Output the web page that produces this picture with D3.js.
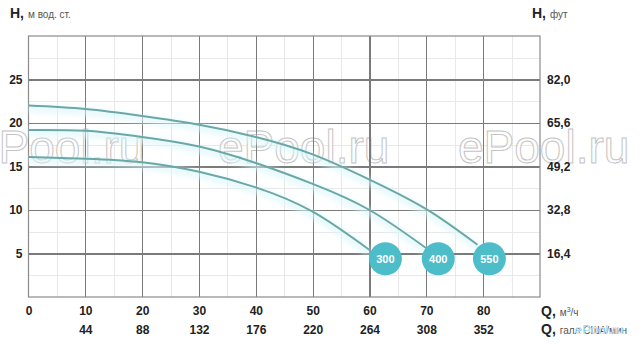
<!DOCTYPE html>
<html>
<head>
<meta charset="utf-8">
<script src="https://cdn.jsdelivr.net/npm/d3@7"></script>
<style>
  body { margin: 0; background: #fff; }
  svg { display: block; font-family: Arial, "Liberation Sans", sans-serif; }
  .tick line { shape-rendering: crispEdges; }
</style>
</head>
<body>
<div id="container"></div>
<script>
// chart values
const qTicks = [0, 10, 20, 30, 40, 50, 60, 70, 80];
const gpmTicks = ["", "44", "88", "132", "176", "220", "264", "308", "352"];
const hTicks = [5, 10, 15, 20, 25];
const ftTicks = ["16,4", "32,8", "49,2", "65,6", "82,0"];
const qMinor = [5, 15, 25, 35, 45, 55, 65, 75, 85];
const hMinor = [2.5, 7.5, 12.5, 17.5, 22.5, 27.5];

const models = ["300", "400", "550"];
const curveQ = [
  [0, 10, 20, 30, 40, 50, 60],
  [0, 10, 20, 30, 40, 50, 60, 70],
  [0, 10, 20, 30, 40, 50, 60, 70, 79]
];
const curveH = [
  [16.1, 15.9, 15.5, 14.4, 12.6, 9.8, 5.4],
  [19.2, 19.1, 18.4, 17.3, 15.4, 13.0, 10.0, 5.6],
  [22.0, 21.6, 20.8, 19.8, 18.4, 16.4, 13.5, 10.1, 6.0]
];
const badgeQ = [62.8, 72.1, 81.1];
const badgeH = [4.4, 4.4, 4.4];

// dimensions
const W = 642, H = 344;
const x = d3.scaleLinear().domain([0, 90]).range([28.5, 540]);
const y = d3.scaleLinear().domain([0, 30]).range([297, 36]);

const svg = d3.select("#container")
  .append("svg")
  .attr("width", W)
  .attr("height", H);

const defs = svg.append("defs");
defs.append("filter")
  .attr("id", "glow")
  .attr("x", "-10%").attr("y", "-50%")
  .attr("width", "120%").attr("height", "200%")
  .append("feGaussianBlur")
  .attr("stdDeviation", 3);

// minor grid
svg.append("g")
  .attr("transform", `translate(0, ${y(0)})`)
  .call(d3.axisBottom(x).tickValues(qMinor).tickSize(-(y(0) - y(30))).tickFormat(""))
  .call(g => g.select(".domain").remove())
  .call(g => g.selectAll("line").attr("stroke", "#e8e8e8"));

svg.append("g")
  .attr("transform", `translate(${x(0)}, 0)`)
  .call(d3.axisLeft(y).tickValues(hMinor).tickSize(-(x(90) - x(0))).tickFormat(""))
  .call(g => g.select(".domain").remove())
  .call(g => g.selectAll("line").attr("stroke", "#e8e8e8"));

// watermarks
const marks = [-27, 218, 458];
svg.append("g")
  .selectAll("text")
  .data(marks)
  .join("text")
  .attr("x", d => d)
  .attr("y", 163)
  .attr("font-size", 46)
  .attr("fill", "#fff")
  .attr("stroke", "#c4c4c4")
  .attr("stroke-width", 1)
  .text("ePool.ru");

// major grid
svg.append("g")
  .attr("transform", `translate(0, ${y(0)})`)
  .call(d3.axisBottom(x).tickValues(qTicks.slice(1)).tickSize(-(y(0) - y(30))).tickFormat(""))
  .call(g => g.select(".domain").remove())
  .call(g => g.selectAll("line").attr("stroke", "#7a7a7a").attr("stroke-width", 1.2));

svg.append("g")
  .attr("transform", `translate(${x(0)}, 0)`)
  .call(d3.axisLeft(y).tickValues(hTicks).tickSize(-(x(90) - x(0))).tickFormat(""))
  .call(g => g.select(".domain").remove())
  .call(g => g.selectAll("line").attr("stroke", "#7a7a7a").attr("stroke-width", 1.2));

// frame
svg.append("rect")
  .attr("x", x(0)).attr("y", y(30))
  .attr("width", x(90) - x(0)).attr("height", y(0) - y(30))
  .attr("fill", "none")
  .attr("stroke", "#8a8a8a")
  .attr("stroke-width", 1.2);

// curves
const line = d3.line()
  .x(d => x(d[0]))
  .y(d => y(d[1]))
  .curve(d3.curveNatural);

const curves = models.map((m, i) => curveQ[i].map((q, j) => [q, curveH[i][j]]));

svg.append("g")
  .selectAll("path")
  .data(curves)
  .join("path")
  .attr("d", line)
  .attr("transform", "translate(0, 3)")
  .attr("fill", "none")
  .attr("stroke", "#dcf6f9")
  .attr("stroke-width", 5)
  .attr("filter", "url(#glow)");

svg.append("g")
  .selectAll("path")
  .data(curves)
  .join("path")
  .attr("d", line)
  .attr("fill", "none")
  .attr("stroke", "#6aa8a8")
  .attr("stroke-width", 2);

// model badges
const badges = svg.append("g")
  .selectAll("g")
  .data(models)
  .join("g")
  .attr("transform", (d, i) => `translate(${x(badgeQ[i])}, ${y(badgeH[i])})`);

badges.append("circle")
  .attr("r", 16.5)
  .attr("fill", "#4dbdc9");

badges.append("text")
  .attr("text-anchor", "middle")
  .attr("dy", "0.35em")
  .attr("font-size", 11)
  .attr("font-weight", "bold")
  .attr("fill", "#fff")
  .text(d => d);

// left axis labels
svg.append("g")
  .attr("transform", `translate(${x(0)}, 0)`)
  .call(d3.axisLeft(y).tickValues(hTicks).tickSize(0).tickPadding(6))
  .call(g => g.select(".domain").remove())
  .call(g => g.selectAll("text")
    .attr("font-size", 12).attr("font-weight", "bold").attr("fill", "#222")
    .attr("font-family", "Arial, 'Liberation Sans', sans-serif"));

// right axis labels
svg.append("g")
  .attr("transform", `translate(${x(90)}, 0)`)
  .call(d3.axisRight(y).tickValues(hTicks).tickSize(0).tickPadding(7)
    .tickFormat((d, i) => ftTicks[i]))
  .call(g => g.select(".domain").remove())
  .call(g => g.selectAll("text")
    .attr("font-size", 12).attr("font-weight", "bold").attr("fill", "#222")
    .attr("font-family", "Arial, 'Liberation Sans', sans-serif"));

// bottom labels: m3/h
svg.append("g")
  .attr("transform", `translate(0, ${y(0)})`)
  .call(d3.axisBottom(x).tickValues(qTicks).tickSize(0).tickPadding(9))
  .call(g => g.select(".domain").remove())
  .call(g => g.selectAll("text")
    .attr("font-size", 12).attr("font-weight", "bold").attr("fill", "#222")
    .attr("font-family", "Arial, 'Liberation Sans', sans-serif"));

// bottom labels: US gpm
svg.append("g")
  .attr("transform", `translate(0, ${y(0) + 19})`)
  .call(d3.axisBottom(x).tickValues(qTicks).tickSize(0).tickPadding(9)
    .tickFormat((d, i) => gpmTicks[i]))
  .call(g => g.select(".domain").remove())
  .call(g => g.selectAll("text")
    .attr("font-size", 12).attr("font-weight", "bold").attr("fill", "#222")
    .attr("font-family", "Arial, 'Liberation Sans', sans-serif"));

// axis titles
const title = (tx, ty, big, small) => {
  const t = svg.append("text").attr("x", tx).attr("y", ty);
  t.append("tspan").attr("font-size", 14).attr("font-weight", "bold").attr("fill", "#222").text(big);
  t.append("tspan").attr("font-size", 10).attr("fill", "#555").attr("dx", 4).text(small);
  return t;
};
title(10, 18, "H,", "м вод. ст.");
title(532, 18, "H,", "фут");
const q1 = title(541, 316, "Q,", "м");
q1.append("tspan").attr("font-size", 7).attr("fill", "#555").attr("dy", -4).text("3");
q1.append("tspan").attr("font-size", 10).attr("fill", "#555").attr("dy", 4).text("/ч");
title(541, 334, "Q,", "галл США/мин");

svg.append("text")
  .attr("x", 575)
  .attr("y", 334)
  .attr("font-size", 13)
  .attr("fill", "#2aa0f0")
  .attr("stroke", "#fff")
  .attr("stroke-width", 0.5)
  .text("ePool.ru");
</script>
</body>
</html>
